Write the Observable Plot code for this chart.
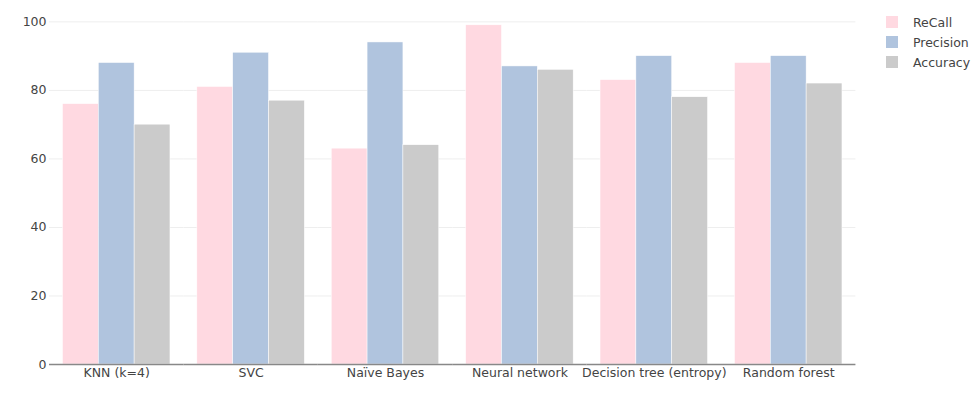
<!DOCTYPE html>
<html>
<head>
<meta charset="utf-8">
<script src="https://cdn.jsdelivr.net/npm/d3@7"></script>
<script src="https://cdn.jsdelivr.net/npm/@observablehq/plot@0.6"></script>
<style>
  html, body { margin: 0; padding: 0; background: #fff; }
  #wrap { position: relative; width: 974px; height: 395px; }
  #legend { position: absolute; left: 886px; top: 12px; font: 12.5px "DejaVu Sans", sans-serif; color: #444; }
  #legend .row { display: flex; align-items: center; height: 20px; }
  #legend .sw { width: 12px; height: 12px; margin-right: 15px; }
</style>
</head>
<body>
<div id="wrap"><div id="legend"></div></div>
<script>
const categories = ["KNN (k=4)", "SVC", "Naïve Bayes", "Neural network", "Decision tree (entropy)", "Random forest"];
const series = ["ReCall", "Precision", "Accuracy"];
const recall = [76, 81, 63, 99, 83, 88];
const precision = [88, 91, 94, 87, 90, 90];
const accuracy = [70, 77, 64, 86, 78, 82];
const colors = ["#ffd9e1", "#b0c4de", "#cbcbcb"];
const yTicks = [0, 20, 40, 60, 80, 100];

const values = [recall, precision, accuracy];
const data = [];
categories.forEach((c, i) => series.forEach((s, j) => data.push({category: c, series: s, value: values[j][i]})));

const font = "'DejaVu Sans', sans-serif";
const chart = Plot.plot({
  width: 974,
  height: 395,
  marginLeft: 49,
  marginRight: 118.6,
  marginTop: 7,
  marginBottom: 31,
  style: {fontFamily: font, fontSize: "12.5px", color: "#444", background: "#fff"},
  fx: {domain: categories, paddingInner: 0, paddingOuter: 0, round: false, label: null, tickSize: 0, tickPadding: 4},
  x: {domain: series, paddingInner: 0, paddingOuter: 0.375, round: false, axis: null},
  y: {domain: [0, 104.2], ticks: yTicks, label: null, tickSize: 0, tickPadding: 3},
  color: {domain: series, range: colors},
  marks: [
    Plot.gridY(yTicks, {stroke: "#eeeeee", strokeOpacity: 1}),
    Plot.barY(data, {fx: "category", x: "series", y: "value", fill: "series", inset: 0, stroke: "#fff", strokeWidth: 0.5}),
    Plot.ruleY([0], {stroke: "#888", strokeWidth: 1.5}),
    Plot.axisY(yTicks, {tickSize: 0, tickPadding: 3, fontSize: 12.5, label: null})
  ]
});
document.getElementById("wrap").prepend(chart);

const legend = document.getElementById("legend");
series.forEach((s, j) => {
  const row = document.createElement("div");
  row.className = "row";
  const sw = document.createElement("div");
  sw.className = "sw";
  sw.style.background = colors[j];
  const t = document.createElement("span");
  t.textContent = s;
  row.append(sw, t);
  legend.append(row);
});
</script>
</body>
</html>
